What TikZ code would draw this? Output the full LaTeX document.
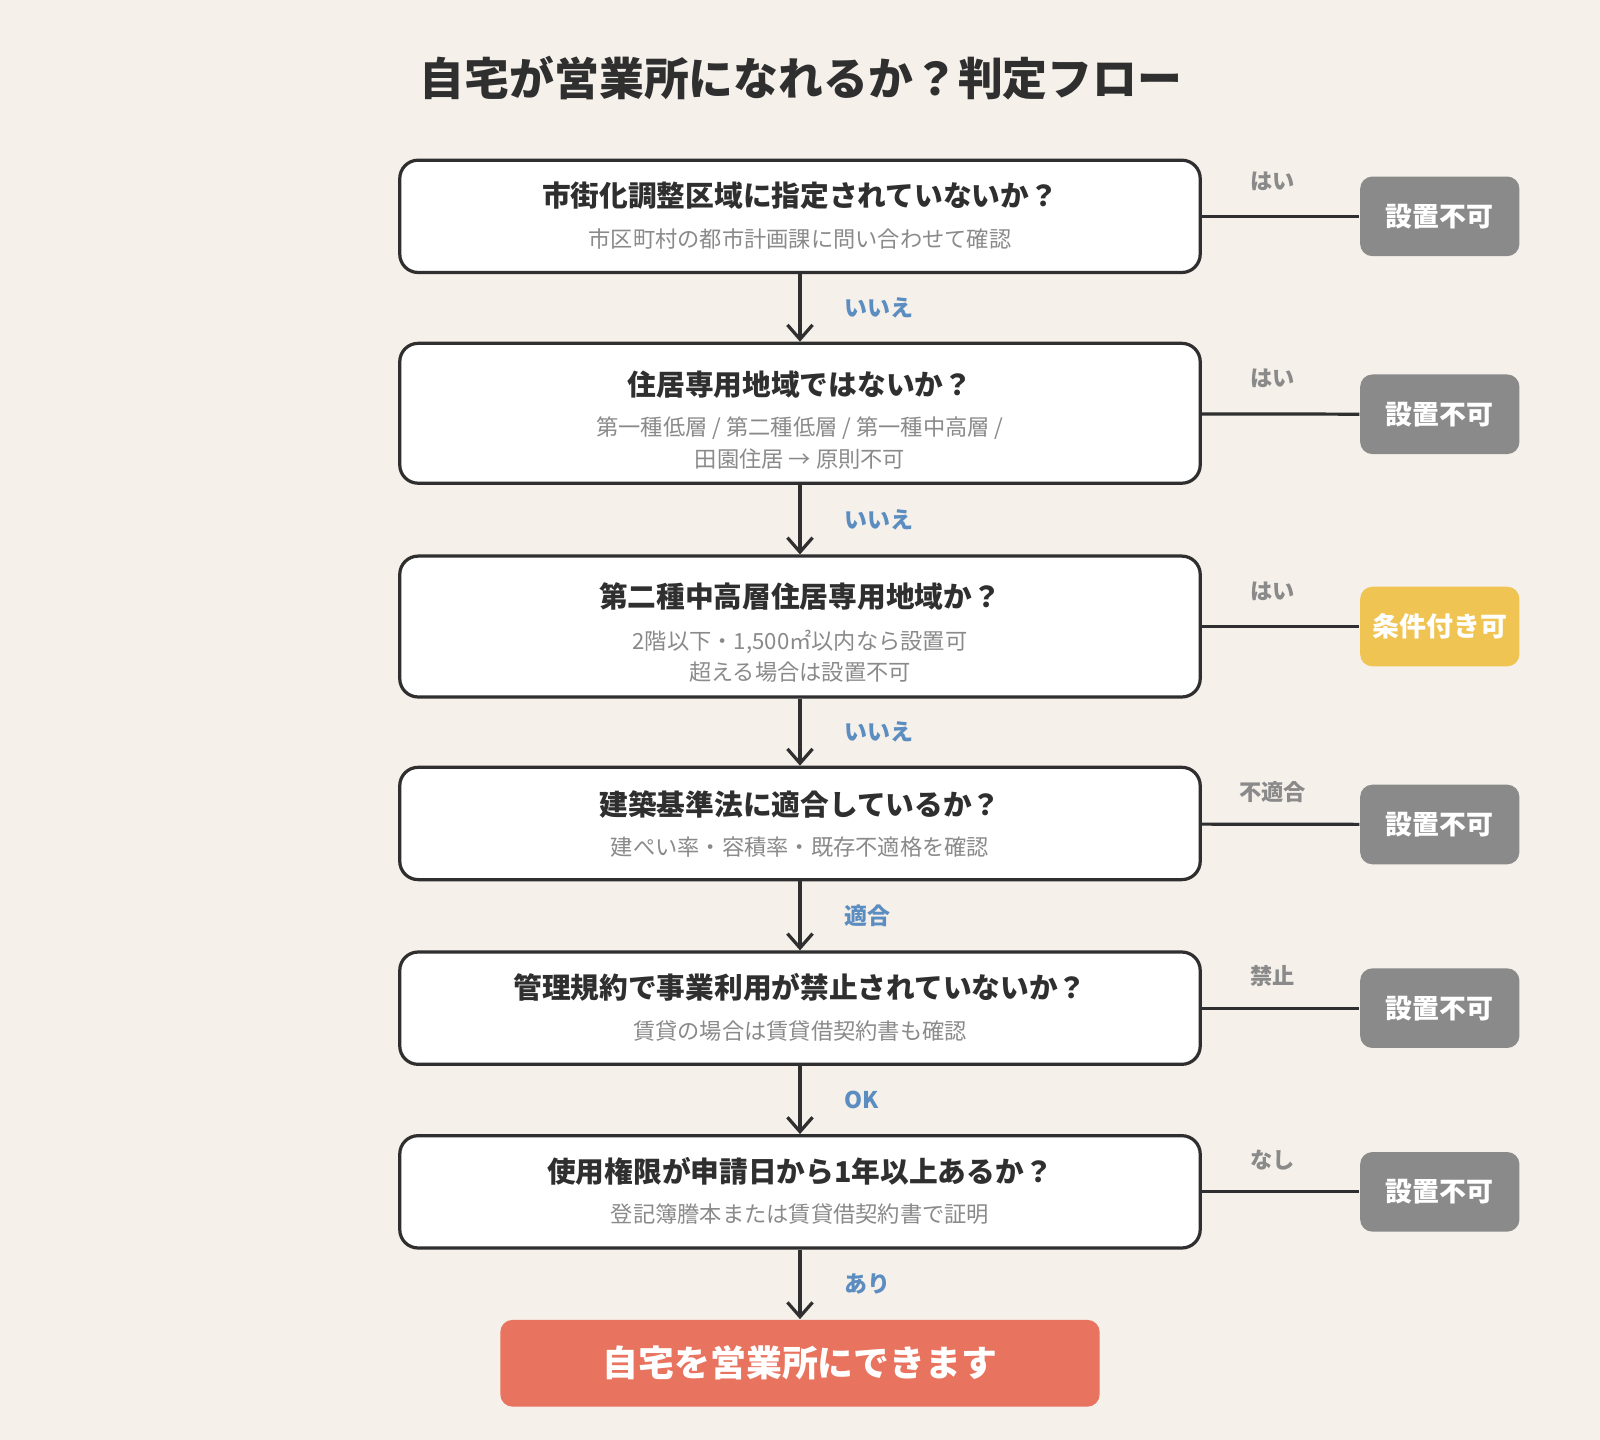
\documentclass[tikz,border=0pt]{standalone}
\usepackage{fontspec}
\setmainfont{Noto Sans CJK JP}
\usetikzlibrary{arrows.meta, positioning}
\definecolor{fbg}{HTML}{F5F0EA}
\definecolor{fink}{HTML}{2F2F2F}
\definecolor{fsub}{HTML}{8A8A8A}
\definecolor{fno}{HTML}{8A8A8A}
\definecolor{fcond}{HTML}{F0C453}
\definecolor{fok}{HTML}{E8735E}
\definecolor{fblue}{HTML}{5B8DC0}

\begin{document}
\begin{tikzpicture}[
  x=0.01cm, y=-0.01cm,
  qbox/.style={rectangle, rounded corners=0.18cm, draw=fink, line width=0.9pt, fill=white, minimum width=7.84cm, align=center, inner sep=0pt},
  endbox/.style={rectangle, rounded corners=0.12cm, minimum width=1.56cm, minimum height=0.78cm, font=\fontsize{7.5}{9}\selectfont\bfseries, text=white},
  qhead/.style={font=\fontsize{8}{10}\selectfont\bfseries, text=fink},
  qsub/.style={font=\fontsize{6.2}{8.8}\selectfont, text=fsub, align=center},
  flow/.style={draw=fink, line width=0.9pt, -{Straight Barb[length=4pt, width=7pt]}},
  side/.style={draw=fink, line width=0.9pt},
  downlbl/.style={font=\fontsize{6.4}{8}\selectfont\bfseries, text=fblue, anchor=west},
  sidelbl/.style={font=\fontsize{6.2}{8}\selectfont\bfseries, text=fsub},
]
\fill[fbg] (0,0) rectangle (1568,1411);
\useasboundingbox (0,0) rectangle (1568,1411);

\node[font=\fontsize{12.5}{15}\selectfont\bfseries, text=fink] (title) at (785,77) {自宅が営業所になれるか？判定フロー};

% questions
\node[qbox, minimum height=1.10cm] (q1) at (784,212) {};
\node[qhead] at (784,192) {市街化調整区域に指定されていないか？};
\node[qsub] at (784,234) {市区町村の都市計画課に問い合わせて確認};

\node[qbox, minimum height=1.37cm] (q2) at (784,405) {};
\node[qhead] at (784,377) {住居専用地域ではないか？};
\node[qsub] at (784,434) {第一種低層 / 第二種低層 / 第一種中高層 /\\田園住居 → 原則不可};

\node[qbox, minimum height=1.38cm] (q3) at (784,614) {};
\node[qhead] at (784,585) {第二種中高層住居専用地域か？};
\node[qsub] at (784,643) {2階以下・1,500㎡以内なら設置可\\超える場合は設置不可};

\node[qbox, minimum height=1.10cm] (q4) at (784,807) {};
\node[qhead] at (784,788) {建築基準法に適合しているか？};
\node[qsub] at (784,830) {建ぺい率・容積率・既存不適格を確認};

\node[qbox, minimum height=1.10cm] (q5) at (784,988) {};
\node[qhead] at (784,968) {管理規約で事業利用が禁止されていないか？};
\node[qsub] at (784,1010) {賃貸の場合は賃貸借契約書も確認};

\node[qbox, minimum height=1.10cm] (q6) at (784,1168) {};
\node[qhead] at (784,1148) {使用権限が申請日から1年以上あるか？};
\node[qsub] at (784,1190) {登記簿謄本または賃貸借契約書で証明};

\node[rectangle, rounded corners=0.12cm, fill=fok, minimum width=5.87cm, minimum height=0.85cm, text=white, font=\fontsize{10}{12}\selectfont\bfseries] (done) at (784,1336) {自宅を営業所にできます};

% outcomes
\node[endbox, fill=fno] (n1) at (1411,212) {設置不可};
\node[endbox, fill=fno] (n2) at (1411,406) {設置不可};
\node[endbox, fill=fcond] (n3) at (1411,614) {条件付き可};
\node[endbox, fill=fno] (n4) at (1411,808) {設置不可};
\node[endbox, fill=fno] (n5) at (1411,988) {設置不可};
\node[endbox, fill=fno] (n6) at (1411,1168) {設置不可};

% flow
\draw[flow] (q1) -- node[downlbl, xshift=0.3cm] {いいえ} (q2);
\draw[flow] (q2) -- node[downlbl, xshift=0.3cm] {いいえ} (q3);
\draw[flow] (q3) -- node[downlbl, xshift=0.3cm] {いいえ} (q4);
\draw[flow] (q4) -- node[downlbl, xshift=0.3cm] {適合} (q5);
\draw[flow] (q5) -- node[downlbl, xshift=0.3cm] {OK} (q6);
\draw[flow] (q6) -- node[downlbl, xshift=0.3cm] {あり} (done);

\draw[side] (q1) -- node[sidelbl, above=0.12cm, xshift=-0.08cm] {はい} (n1);
\draw[side] (q2) -- node[sidelbl, above=0.12cm, xshift=-0.08cm] {はい} (n2);
\draw[side] (q3) -- node[sidelbl, above=0.12cm, xshift=-0.08cm] {はい} (n3);
\draw[side] (q4) -- node[sidelbl, above=0.08cm, xshift=-0.08cm] {不適合} (n4);
\draw[side] (q5) -- node[sidelbl, above=0.08cm, xshift=-0.08cm] {禁止} (n5);
\draw[side] (q6) -- node[sidelbl, above=0.08cm, xshift=-0.08cm] {なし} (n6);
\end{tikzpicture}
\end{document}
